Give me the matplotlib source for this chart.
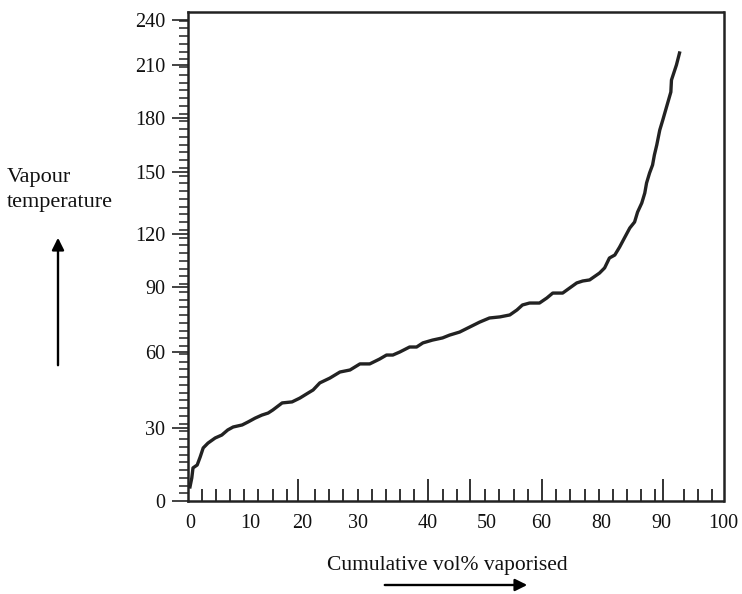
import numpy as np
import matplotlib
matplotlib.use("Agg")
import matplotlib.pyplot as plt

plt.rcParams['font.family'] = ['Liberation Serif', 'DejaVu Serif']

# distillation curve (vol% vaporised, vapour temperature)
vol_pct = [0.0, 0.3, 0.5, 1.2, 1.7, 2.2, 3.0, 4.2, 5.3, 6.3, 7.2, 8.7, 9.7, 11.0,
           12.3, 13.5, 14.4, 16.2, 18.1, 19.6, 21.1, 22.0, 23.2, 25.0, 26.8, 28.6,
           30.3, 31.7, 33.1, 34.1, 35.0, 36.0, 37.4, 38.4, 39.3, 40.8, 42.5, 43.7,
           45.4, 47.1, 48.8, 50.5, 52.4, 54.2, 55.5, 56.5, 57.8, 59.6, 61.7, 63.7,
           67.0, 69.3, 71.7, 73.7, 76.0, 79.3, 80.5, 81.3, 82.2, 83.0, 83.8, 84.7,
           85.5, 86.0, 86.7, 87.2, 87.5, 88.0, 88.5, 88.8, 89.2, 89.7, 90.2, 90.8,
           91.5, 91.6, 92.4, 92.9]
vapour_temp = [5.8, 9.5, 13.6, 14.8, 18.1, 21.8, 23.8, 25.9, 27.1, 29.2, 30.4, 31.2,
               32.4, 33.9, 35.1, 35.9, 37.1, 39.9, 40.3, 41.8, 43.8, 45.0, 47.8, 49.7,
               52.1, 52.9, 55.3, 55.3, 57.2, 58.8, 58.8, 60.0, 62.3, 62.3, 64.2, 65.5,
               66.5, 67.8, 69.2, 71.5, 73.8, 75.7, 76.2, 77.1, 79.4, 81.7, 82.6, 82.6,
               84.9, 87.2, 87.2, 89.5, 92.3, 93.4, 94.0, 97.9, 100.8, 106.4, 108.1,
               112.6, 117.7, 122.9, 125.8, 130.6, 135.0, 139.8, 144.7, 149.5, 153.9,
               159.4, 165.0, 173.3, 178.9, 186.2, 194.7, 201.5, 210.0, 218.0]

x_tick_values = [0, 10, 20, 30, 40, 50, 60, 80, 90, 100]
y_tick_values = [0, 30, 60, 90, 120, 150, 180, 210, 240]
tall_marks = [19.3, 40, 47.1, 60, 90.3]

# the scan's axes are hand drawn: the labels sit at uneven spots, so the
# scales are piecewise linear through where each label actually is (pixels)
x_label_px = [190, 250, 302, 358, 428, 487, 542, 602, 662, 724]
y_label_px = [93, 166, 242, 307, 360, 422, 476, 529, 574]  # from the bottom

W, H = 742, 594


def interp_ext(v, a, b):
    v = np.asarray(v, float)
    a = np.asarray(a, float)
    b = np.asarray(b, float)
    out = np.interp(v, a, b)
    lo = (b[1] - b[0]) / (a[1] - a[0])
    hi = (b[-1] - b[-2]) / (a[-1] - a[-2])
    out = np.where(v < a[0], b[0] + (v - a[0]) * lo, out)
    out = np.where(v > a[-1], b[-1] + (v - a[-1]) * hi, out)
    return out


def piecewise(vals, px):
    return (lambda v: interp_ext(v, vals, px)), (lambda p: interp_ext(p, px, vals))


xf, xi = piecewise(x_tick_values, x_label_px)
yf, yi = piecewise(y_tick_values, y_label_px)

ink = '#222222'
fig = plt.figure(figsize=(W / 100, H / 100), dpi=100)
ax = fig.add_axes([188 / W, 93 / H, 535.5 / W, 489 / H])
ax.set_xscale('function', functions=(xf, xi))
ax.set_yscale('function', functions=(yf, yi))
ax.set_xlim(float(xi(188)), float(xi(723.5)))
ax.set_ylim(float(yi(93)), float(yi(582)))

ax.plot(vol_pct, vapour_temp, color=ink, lw=2.4)

for s in ax.spines.values():
    s.set_linewidth(1.8)
    s.set_color(ink)

ax.set_xticks(x_tick_values, [str(v) for v in x_tick_values])
ax.set_xticks([], minor=True)
ax.tick_params(axis='x', length=0, pad=9, labelsize=14.5, labelcolor='#111111')

ax.set_yticks(y_tick_values, [str(v) for v in y_tick_values])
ax.set_yticks(yi(np.arange(93, 580, 7.75)), minor=True)
ax.tick_params(axis='y', which='major', direction='out', length=11.5, width=1.2,
               color=ink, pad=5, labelsize=14.5, labelcolor='#111111')
ax.tick_params(axis='y', which='minor', direction='out', length=6.5, width=1.1, color=ink)

# inward marks along the bottom
trans = ax.get_xaxis_transform()
small_px = np.linspace(201.7, 712.7, 37)
tall_px = xf(tall_marks)
small_px = [p for p in small_px if np.min(np.abs(tall_px - p)) > 7]
ax.vlines(xi(small_px), 0, 12 / 489, transform=trans, color=ink, lw=1.3)
ax.vlines(tall_marks, 0, 22 / 489, transform=trans, color=ink, lw=1.3)

fig.text(7 / W, (H - 190) / H, 'Vapour\ntemperature', ha='left', va='center',
         fontsize=16, linespacing=1.4, color='#111111')
fig.text(447 / W, (H - 570) / H, 'Cumulative vol% vaporised', ha='center',
         va='baseline', fontsize=15.5, color='#111111')

arrow = dict(arrowstyle='-|>', lw=1.7, color='black', mutation_scale=18)
ax.annotate('', xy=(58, H - 235), xytext=(58, H - 368), xycoords='figure pixels',
            textcoords='figure pixels', arrowprops=arrow)
ax.annotate('', xy=(530, H - 585), xytext=(382, H - 585), xycoords='figure pixels',
            textcoords='figure pixels', arrowprops=arrow)

fig.savefig('out.png', dpi=100)
